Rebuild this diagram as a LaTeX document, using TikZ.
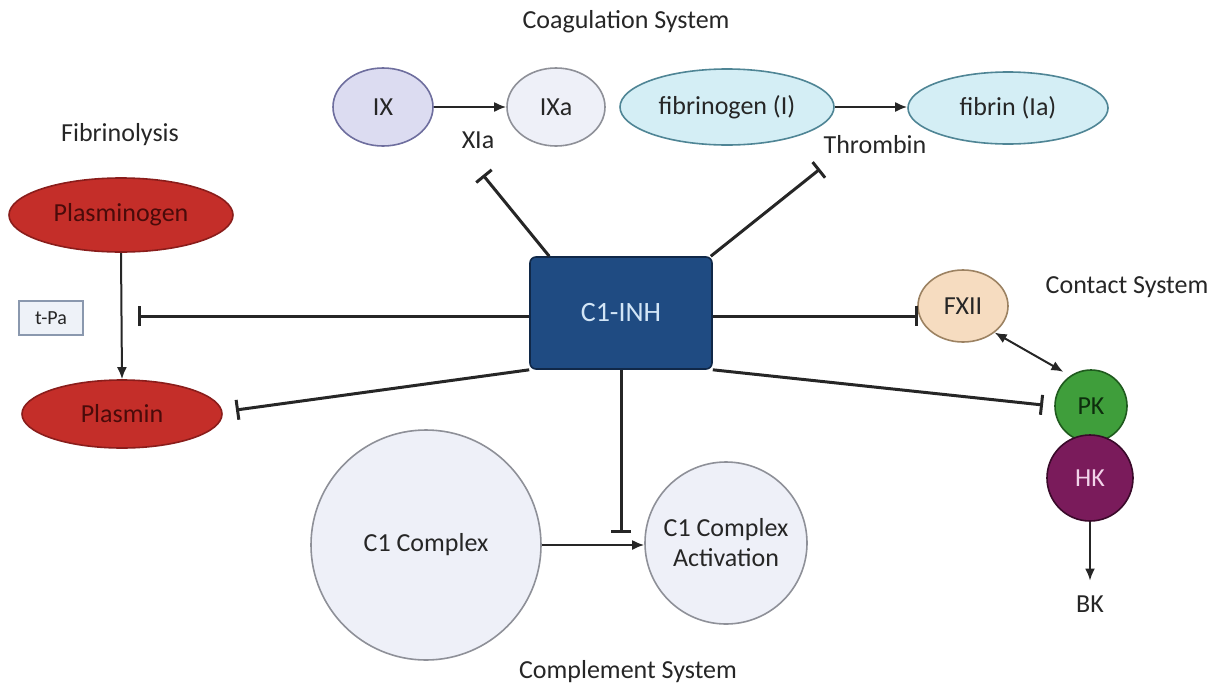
\documentclass[tikz,border=0pt]{standalone}
\usepackage{fontspec}
\setmainfont{Carlito}
\usetikzlibrary{arrows.meta,shapes.geometric}

\definecolor{txtgray}{HTML}{262626}
\definecolor{ixfill}{HTML}{DCDCF1}
\definecolor{ixdraw}{HTML}{6E6E9E}
\definecolor{palefill}{HTML}{EEF0F8}
\definecolor{paledraw}{HTML}{8E9098}
\definecolor{fibfill}{HTML}{D4EEF5}
\definecolor{fibdraw}{HTML}{4F8595}
\definecolor{plasfill}{HTML}{C42E29}
\definecolor{plasdraw}{HTML}{8A1D1B}
\definecolor{plastext}{HTML}{4A0B0A}
\definecolor{inhfill}{HTML}{1F4B82}
\definecolor{inhdraw}{HTML}{102848}
\definecolor{inhtext}{HTML}{D2E5F6}
\definecolor{fxfill}{HTML}{F6DCC0}
\definecolor{fxdraw}{HTML}{9C8262}
\definecolor{pkfill}{HTML}{3F9E3B}
\definecolor{pkdraw}{HTML}{1F5A1E}
\definecolor{pktext}{HTML}{0D2D0D}
\definecolor{hkfill}{HTML}{7A1B5B}
\definecolor{hkdraw}{HTML}{3A0A2A}
\definecolor{hktext}{HTML}{F2D4EA}
\definecolor{tpafill}{HTML}{EEF2F8}
\definecolor{tpadraw}{HTML}{8A98AE}

\begin{document}
\begin{tikzpicture}[x=0.5pt,y=-0.5pt,font=\fontsize{13}{15}\selectfont,text=txtgray,
  inhib/.style={line width=1.5pt,draw=black!85,-{Bar[width=10pt,line width=1.5pt]}},
  activ/.style={line width=1pt,draw=black!85,-{Latex[length=6pt,width=5pt]}},
  oval/.style={ellipse,draw,line width=0.8pt,inner sep=0pt},
  ball/.style={circle,draw,line width=0.8pt,inner sep=0pt}]
\useasboundingbox (0,0) rectangle (1221,686);

\node (coag) at (626,22) {Coagulation System};
\node (fibrinolysis) at (120,135) {Fibrinolysis};
\node (contact) at (1127,287) {Contact System};
\node (complement) at (628,672) {Complement System};

\node[oval,fill=ixfill,draw=ixdraw,minimum width=50pt,minimum height=39pt] (IX) at (383,107) {IX};
\node[oval,fill=palefill,draw=paledraw,minimum width=49pt,minimum height=39pt] (IXa) at (556,107) {IXa};
\node[oval,fill=fibfill,draw=fibdraw,minimum width=107pt,minimum height=38pt] (fibrinogen) at (727,107) {fibrinogen (I)};
\node[oval,fill=fibfill,draw=fibdraw,minimum width=100pt,minimum height=36pt] (fibrin) at (1008,108) {fibrin (Ia)};
\node (XIa) at (478,140) {XIa};
\node (thrombin) at (875,145) {Thrombin};

\node[oval,fill=plasfill,draw=plasdraw,text=plastext,minimum width=112pt,minimum height=37pt] (plasminogen) at (121,215) {Plasminogen};
\node[oval,fill=plasfill,draw=plasdraw,text=plastext,minimum width=100pt,minimum height=34pt] (plasmin) at (122,414) {Plasmin};
\node[draw=tpadraw,fill=tpafill,line width=0.8pt,minimum width=32pt,minimum height=17pt,font=\fontsize{10}{12}\selectfont] (tPa) at (51,318) {t-Pa};

\node[draw=inhdraw,fill=inhfill,text=inhtext,rounded corners=3pt,line width=0.8pt,minimum width=91pt,minimum height=56pt,font=\fontsize{14}{16}\selectfont] (C1INH) at (621,313) {C1-INH};

\node[oval,fill=fxfill,draw=fxdraw,minimum width=45pt,minimum height=36pt] (FXII) at (963,306) {FXII};
\node[ball,fill=pkfill,draw=pkdraw,text=pktext,minimum size=36pt] (PK) at (1091,406) {PK};
\node[ball,fill=hkfill,draw=hkdraw,text=hktext,minimum size=43pt] (HK) at (1090,478) {HK};
\node (BK) at (1090,604) {BK};

\node[ball,fill=palefill,draw=paledraw,minimum size=115pt] (C1cx) at (426,545) {C1 Complex};
\node[ball,fill=palefill,draw=paledraw,minimum size=81pt,align=center] (C1act) at (726,543) {C1 Complex\\Activation};

\coordinate (ixbar) at (483,175);
\coordinate (thrbar) at (820,169);
\coordinate (tpabar) at (138,316);
\coordinate (plbar) at (236,410);
\coordinate (fxbar) at (918,316);
\coordinate (pkbar) at (1043,405);
\coordinate (cxbar) at (621,533);

\draw[activ] (IX) -- (IXa);
\draw[activ] (fibrinogen.east) -- (fibrinogen.east -| fibrin.west);
\draw[activ] (plasminogen.south) -- (plasmin.north);
\draw[activ,{Latex[length=6pt,width=5pt]}-{Latex[length=6pt,width=5pt]}] (FXII.-40) -- ([shift={(-4,-6)}]PK.130);
\draw[activ] (HK.south) -- ([yshift=4]BK.north);
\draw[activ] (C1cx.east) -- (C1cx.east -| C1act.west);

\draw[inhib] ([xshift=10]C1INH.north west) -- (ixbar);
\draw[inhib] ([xshift=-1]C1INH.north east) -- (thrbar);
\draw[inhib] (C1INH.west |- tpabar) -- (tpabar);
\draw[inhib] (C1INH.south west) -- (plbar);
\draw[inhib] (C1INH.east |- fxbar) -- (fxbar);
\draw[inhib] (C1INH.south east) -- (pkbar);
\draw[inhib] (C1INH.south) -- (cxbar);
\end{tikzpicture}
\end{document}
